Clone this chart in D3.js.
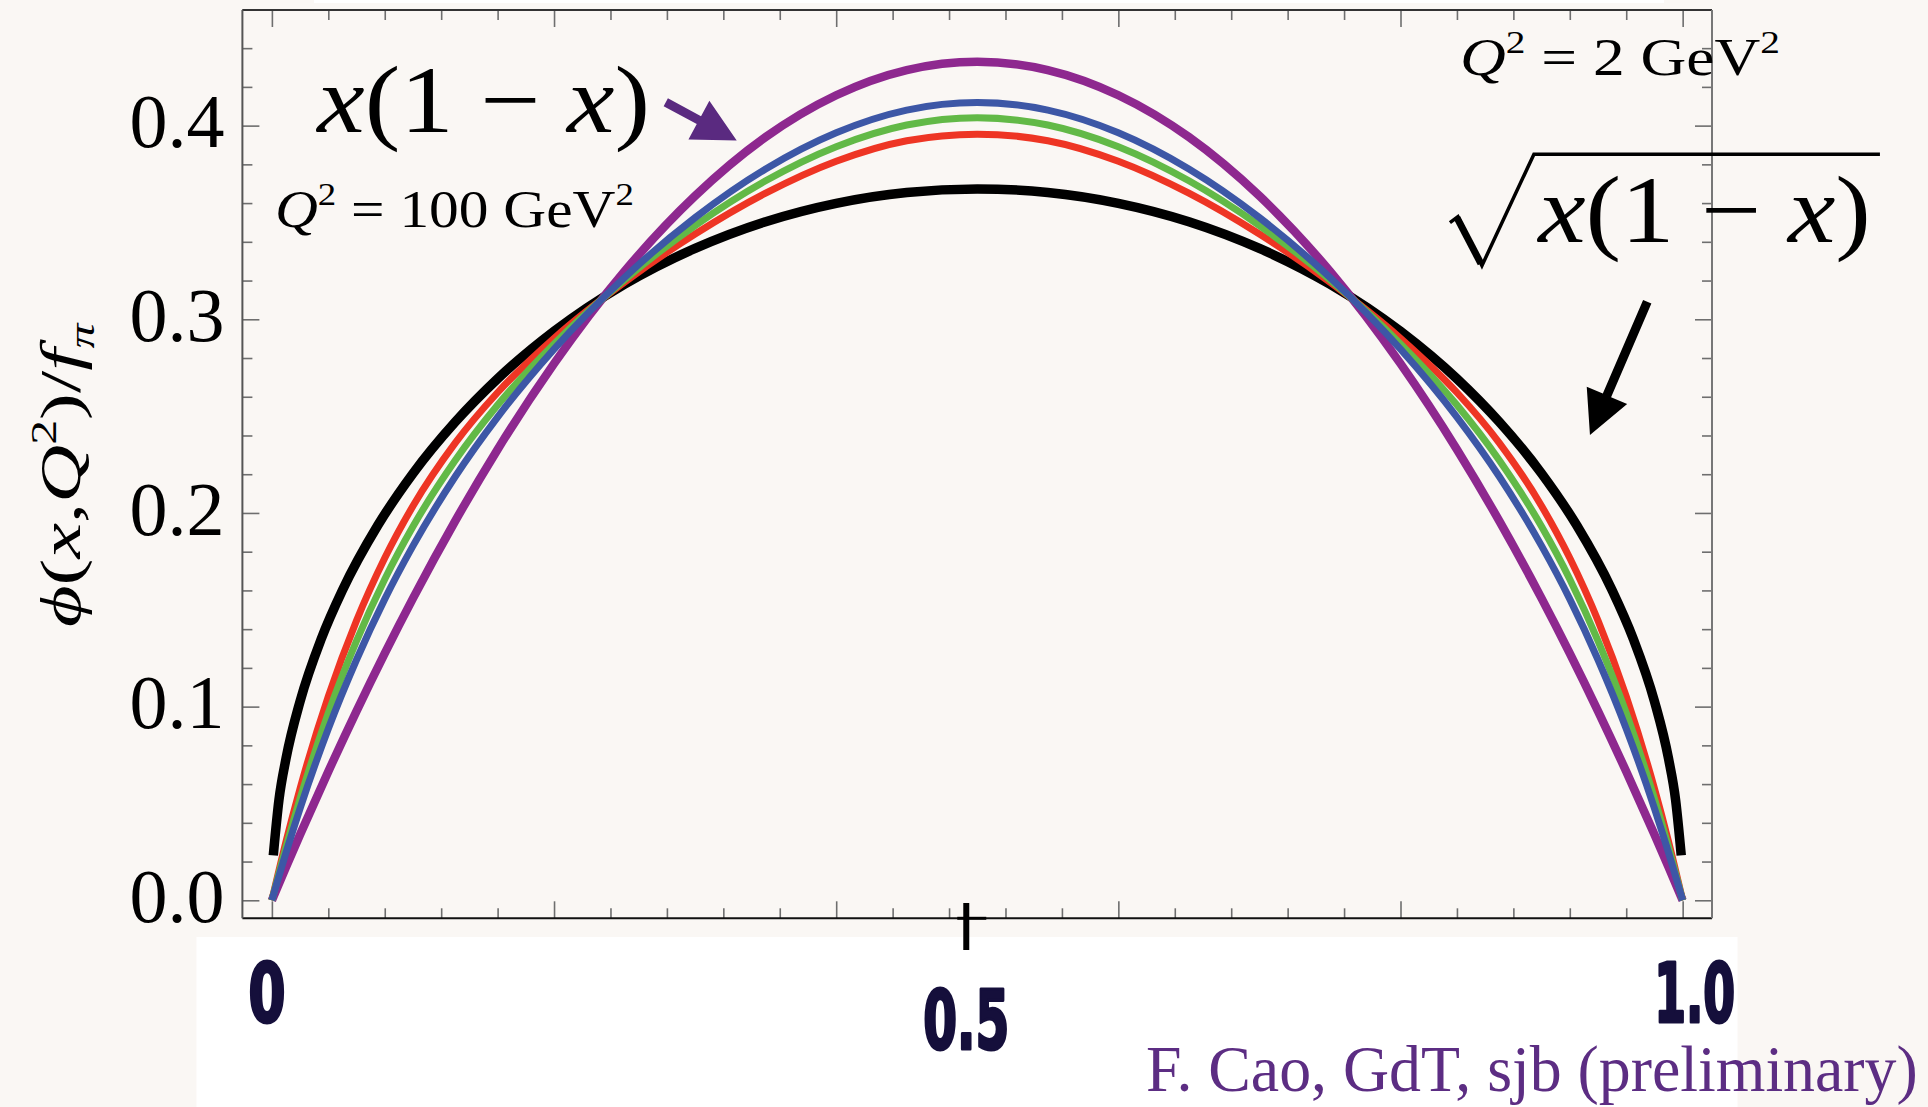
<!DOCTYPE html>
<html>
<head>
<meta charset="utf-8">
<script src="https://cdn.jsdelivr.net/npm/d3@7"></script>
<style>
  html, body { margin: 0; padding: 0; background: #faf7f4; overflow: hidden; }
</style>
</head>
<body>
<svg id="chart" width="1928" height="1107"></svg>
<script>
// ---- Pion distribution amplitude phi(x,Q^2)/f_pi ----

// sample points in x for the evolved / asymptotic curves
const xGrid = [0, 0.01, 0.02, 0.04, 0.06, 0.08, 0.1, 0.13, 0.16, 0.2, 0.25, 0.3, 0.35, 0.4, 0.45, 0.5,
               0.55, 0.6, 0.65, 0.7, 0.75, 0.8, 0.84, 0.87, 0.9, 0.92, 0.94, 0.96, 0.98, 0.99, 1];

// asymptotic  x(1-x)
const asymptotic = [0, 0.0172, 0.0340, 0.0665, 0.0977, 0.1275, 0.1559, 0.1959, 0.2328, 0.2771, 0.3248, 0.3637, 0.3941, 0.4157, 0.4287, 0.4330,
                    0.4287, 0.4157, 0.3941, 0.3637, 0.3248, 0.2771, 0.2328, 0.1959, 0.1559, 0.1275, 0.0977, 0.0665, 0.0340, 0.0172, 0];

// evolved amplitudes
const evolvedRed = [0, 0.0303, 0.0578, 0.1053, 0.1444, 0.1767, 0.2036, 0.2362, 0.2622, 0.2902, 0.3192, 0.3440, 0.3651, 0.3816, 0.3922, 0.3956,
                    0.3922, 0.3816, 0.3651, 0.3440, 0.3192, 0.2902, 0.2622, 0.2362, 0.2036, 0.1767, 0.1444, 0.1053, 0.0578, 0.0303, 0];
const evolvedGreen = [0, 0.0274, 0.0525, 0.0967, 0.1340, 0.1658, 0.1930, 0.2272, 0.2557, 0.2873, 0.3204, 0.3484, 0.3715, 0.3891, 0.4003, 0.4041,
                      0.4003, 0.3891, 0.3715, 0.3484, 0.3204, 0.2873, 0.2557, 0.2272, 0.1930, 0.1658, 0.1340, 0.0967, 0.0525, 0.0274, 0];
const evolvedBlue = [0, 0.0246, 0.0475, 0.0886, 0.1242, 0.1555, 0.1830, 0.2188, 0.2495, 0.2846, 0.3216, 0.3525, 0.3776, 0.3963, 0.4080, 0.4119,
                     0.4080, 0.3963, 0.3776, 0.3525, 0.3216, 0.2846, 0.2495, 0.2188, 0.1830, 0.1555, 0.1242, 0.0886, 0.0475, 0.0246, 0];

// holographic  sqrt(x(1-x))
const xSqrt = [0.001, 0.005, 0.01, 0.02, 0.035, 0.05, 0.075, 0.1, 0.13, 0.16, 0.2, 0.25, 0.3, 0.35, 0.4, 0.45, 0.5,
               0.55, 0.6, 0.65, 0.7, 0.75, 0.8, 0.84, 0.87, 0.9, 0.925, 0.95, 0.965, 0.98, 0.99, 0.995, 0.999];
const holographic = [0.0232, 0.0518, 0.0731, 0.1028, 0.1350, 0.1601, 0.1935, 0.2204, 0.2470, 0.2693, 0.2938, 0.3181, 0.3366, 0.3504, 0.3599, 0.3655, 0.3673,
                     0.3655, 0.3599, 0.3504, 0.3366, 0.3181, 0.2938, 0.2693, 0.2470, 0.2204, 0.1935, 0.1601, 0.1350, 0.1028, 0.0731, 0.0518, 0.0232];

// axis ticks and labels
const yMajorTicks = [0, 0.1, 0.2, 0.3, 0.4];
const yTickLabels = ["0.0", "0.1", "0.2", "0.3", "0.4"];
const xMajorTicks = [0, 0.2, 0.4, 0.6, 0.8, 1.0];
const xBigLabels = ["0", "0.5", "1.0"];
const xBigLabelValues = [0, 0.5, 1.0];

// ---- layout ----
const W = 1928, H = 1107;
const svg = d3.select("#chart");
const SERIF = '"Liberation Serif","Times New Roman","DejaVu Serif",serif';
const NARROW = '"Liberation Sans Narrow","DejaVu Sans Condensed","Arial Narrow",sans-serif';

const x = d3.scaleLinear().domain([-0.0209, 1.0208]).range([242.4, 1712]);
const y = d3.scaleLinear().domain([-0.0093, 0.4597]).range([918.3, 10]);

svg.append("rect").attr("width", W).attr("height", H).attr("fill", "#faf7f4");
svg.append("rect").attr("x", 314).attr("y", 0).attr("width", 1350).attr("height", 3).attr("fill", "#ffffff");
svg.append("rect").attr("x", 196.5).attr("y", 937).attr("width", 1541).attr("height", H - 937).attr("fill", "#ffffff");

// ---- curves ----
const line = d3.line().x(d => x(d[0])).y(d => y(d[1])).curve(d3.curveMonotoneX);
const series = [
  { xs: xSqrt, ys: holographic, color: "#000000", w: 9.5 },
  { xs: xGrid, ys: asymptotic, color: "#8e288f", w: 8.5 },
  { xs: xGrid, ys: evolvedRed, color: "#ee3524", w: 7 },
  { xs: xGrid, ys: evolvedGreen, color: "#62b947", w: 7 },
  { xs: xGrid, ys: evolvedBlue, color: "#3d57a6", w: 7 }
];
const curves = svg.append("g").attr("fill", "none").attr("stroke-linecap", "butt").attr("stroke-linejoin", "round");
series.forEach(s => {
  curves.append("path")
    .datum(s.xs.map((v, i) => [v, s.ys[i]]))
    .attr("d", line)
    .attr("stroke", s.color)
    .attr("stroke-width", s.w);
});

// ---- frame and ticks ----
const tickStyle = g => g.call(a => a.select(".domain").remove())
  .call(a => a.selectAll(".tick line").attr("stroke", "#6e6e6e").attr("stroke-width", 1.6));

const xMinor = d3.range(0, 1.0001, 0.04).filter(v => !xMajorTicks.some(m => Math.abs(m - v) < 1e-6));
const yMinor = d3.range(0, 0.4601, 0.02).filter(v => !yMajorTicks.some(m => Math.abs(m - v) < 1e-6));

svg.append("g").attr("transform", `translate(0,${y.range()[0]})`)
  .call(d3.axisBottom(x).tickValues(xMajorTicks).tickSize(-17).tickSizeOuter(0).tickFormat("")).call(tickStyle);
svg.append("g").attr("transform", `translate(0,${y.range()[0]})`)
  .call(d3.axisBottom(x).tickValues(xMinor).tickSize(-10).tickSizeOuter(0).tickFormat("")).call(tickStyle);
svg.append("g").attr("transform", `translate(0,${y.range()[1]})`)
  .call(d3.axisTop(x).tickValues(xMajorTicks).tickSize(-17).tickSizeOuter(0).tickFormat("")).call(tickStyle);
svg.append("g").attr("transform", `translate(0,${y.range()[1]})`)
  .call(d3.axisTop(x).tickValues(xMinor).tickSize(-10).tickSizeOuter(0).tickFormat("")).call(tickStyle);

svg.append("g").attr("transform", `translate(${x.range()[0]},0)`)
  .call(d3.axisLeft(y).tickValues(yMinor).tickSize(-10).tickSizeOuter(0).tickFormat("")).call(tickStyle);
svg.append("g").attr("transform", `translate(${x.range()[1]},0)`)
  .call(d3.axisRight(y).tickValues(yMinor).tickSize(-10).tickSizeOuter(0).tickFormat("")).call(tickStyle);
svg.append("g").attr("transform", `translate(${x.range()[1]},0)`)
  .call(d3.axisRight(y).tickValues(yMajorTicks).tickSize(-17).tickSizeOuter(0).tickFormat("")).call(tickStyle);

const yAxis = svg.append("g").attr("transform", `translate(${x.range()[0]},0)`)
  .call(d3.axisLeft(y).tickValues(yMajorTicks).tickSize(-17).tickSizeOuter(0).tickPadding(18)
    .tickFormat((d, i) => yTickLabels[i]))
  .call(tickStyle);
yAxis.attr("font-family", null).attr("font-size", null);
yAxis.selectAll(".tick text")
  .attr("font-family", SERIF).attr("font-size", 76).attr("fill", "#000").attr("dy", "0.28em");

const frame = svg.append("g").attr("fill", "none");
frame.append("line").attr("x1", x.range()[0]).attr("x2", x.range()[1]).attr("y1", y.range()[0]).attr("y2", y.range()[0])
  .attr("stroke", "#111").attr("stroke-width", 2);
frame.append("line").attr("x1", x.range()[0]).attr("x2", x.range()[1]).attr("y1", y.range()[1]).attr("y2", y.range()[1])
  .attr("stroke", "#333").attr("stroke-width", 2);
frame.append("line").attr("x1", x.range()[0]).attr("x2", x.range()[0]).attr("y1", y.range()[0]).attr("y2", y.range()[1])
  .attr("stroke", "#555").attr("stroke-width", 2);
frame.append("line").attr("x1", x.range()[1]).attr("x2", x.range()[1]).attr("y1", y.range()[0]).attr("y2", y.range()[1])
  .attr("stroke", "#777").attr("stroke-width", 2);

// ---- text helpers ----
function mathText(parent, segs, fs, fill) {
  const t = parent.append("text").attr("font-family", SERIF).attr("font-size", fs).attr("fill", fill || "#000");
  let shift = 0;
  segs.forEach(s => {
    const sp = t.append("tspan").text(s.t);
    if (s.it) sp.attr("font-style", "italic");
    let target = 0, size = fs;
    if (s.sup) { target = -0.42 * fs; size = 0.62 * fs; }
    if (s.sub) { target = 0.24 * fs; size = 0.62 * fs; }
    sp.attr("font-size", size);
    if (target !== shift) { sp.attr("dy", target - shift); shift = target; }
  });
  return t;
}
function fitTo(t, left, width, baseline) {
  t.attr("x", 0).attr("y", 0);
  const b = t.node().getBBox();
  const k = width / b.width;
  t.attr("transform", `translate(${left - b.x * k},${baseline}) scale(${k},1)`);
  return t;
}

// y-axis title
const yTitle = svg.append("g").attr("transform", "translate(80,474.5) rotate(-90)");
fitTo(mathText(yTitle, [
  { t: "\u03D5", it: true }, { t: "(" }, { t: "x", it: true }, { t: "," }, { t: "Q", it: true },
  { t: "2", sup: true }, { t: ")/" }, { t: "f", it: true }, { t: "\u03C0", it: true, sub: true }
], 58), -152.5, 305, 0);

// x labels (heavy condensed digits)
const xLab = svg.append("g");
const xLabWidth = [37, 86, 81];
const xLabShift = [-5, -11, 12];
const xLabBase = [1022, 1049, 1022];
xBigLabels.forEach((s, i) => {
  const t = xLab.append("text").text(s)
    .attr("font-family", NARROW).attr("font-weight", 700).attr("font-size", 82).attr("fill", "#150f3b")
    .attr("stroke", "#150f3b").attr("stroke-width", 3.2).attr("stroke-linejoin", "round");
  const cx = x(xBigLabelValues[i]) + xLabShift[i];
  fitTo(t, cx - xLabWidth[i] / 2, xLabWidth[i], xLabBase[i]);
});

// marker at the middle of the x axis
const markX = x(0.5) - 11;
svg.append("line").attr("x1", markX).attr("x2", markX).attr("y1", 903).attr("y2", 950)
  .attr("stroke", "#000").attr("stroke-width", 6);
svg.append("line").attr("x1", markX - 9).attr("x2", markX + 20).attr("y1", y.range()[0]).attr("y2", y.range()[0])
  .attr("stroke", "#000").attr("stroke-width", 3);

// ---- annotations ----
const ann = svg.append("g");
fitTo(mathText(ann, [{ t: "x", it: true }, { t: "(1 \u2212 " }, { t: "x", it: true }, { t: ")" }], 95),
  x(0.0306), 335, y(0.3969));
fitTo(mathText(ann, [{ t: "Q", it: true }, { t: "2", sup: true }, { t: " = 100 GeV" }, { t: "2", sup: true }], 52),
  x(0.0022), 359, y(0.3478));
fitTo(mathText(ann, [{ t: "Q", it: true }, { t: "2", sup: true }, { t: " = 2 GeV" }, { t: "2", sup: true }], 52),
  x(0.8422), 320, y(0.4262));

// square-root expression
const sqL = x(0.8960), sqB = y(0.3401);
fitTo(mathText(ann, [{ t: "x", it: true }, { t: "(1 \u2212 " }, { t: "x", it: true }, { t: ")" }], 95), sqL, 335, sqB);
ann.append("path")
  .attr("d", `M${sqL - 86},${sqB - 19} L${sqL - 78},${sqB - 25} L${sqL - 54},${sqB + 24} L${sqL - 2},${sqB - 87.4} L${sqL + 344},${sqB - 87.4}`)
  .attr("fill", "none").attr("stroke", "#000").attr("stroke-width", 3.5).attr("stroke-linejoin", "miter");
ann.append("line").attr("x1", sqL - 79).attr("y1", sqB - 24).attr("x2", sqL - 55).attr("y2", sqB + 22)
  .attr("stroke", "#000").attr("stroke-width", 7);

// arrows
function arrowPath(x0, y0, x1, y1, shaftW, headL, headW) {
  const dx = x1 - x0, dy = y1 - y0, L = Math.hypot(dx, dy);
  const ux = dx / L, uy = dy / L, nx = -uy, ny = ux;
  const bx = x1 - ux * headL, by = y1 - uy * headL;
  const pts = [
    [x0 + nx * shaftW / 2, y0 + ny * shaftW / 2],
    [bx + nx * shaftW / 2, by + ny * shaftW / 2],
    [bx + nx * headW / 2, by + ny * headW / 2],
    [x1, y1],
    [bx - nx * headW / 2, by - ny * headW / 2],
    [bx - nx * shaftW / 2, by - ny * shaftW / 2],
    [x0 - nx * shaftW / 2, y0 - ny * shaftW / 2]
  ];
  return "M" + pts.map(p => p.join(",")).join("L") + "Z";
}
ann.append("path").attr("d", arrowPath(x(0.2792), y(0.4121), x(0.3295), y(0.3923), 9, 43, 44)).attr("fill", "#5a2a80");
ann.append("path").attr("d", arrowPath(x(0.9749), y(0.3091), x(0.9343), y(0.2403), 9, 43, 44)).attr("fill", "#000");

// credit line
const credit = svg.append("text").text("F. Cao, GdT, sjb (preliminary)")
  .attr("font-family", SERIF).attr("font-size", 66).attr("fill", "#5c2d83");
fitTo(credit, 1146, 772, 1091);
</script>
</body>
</html>
